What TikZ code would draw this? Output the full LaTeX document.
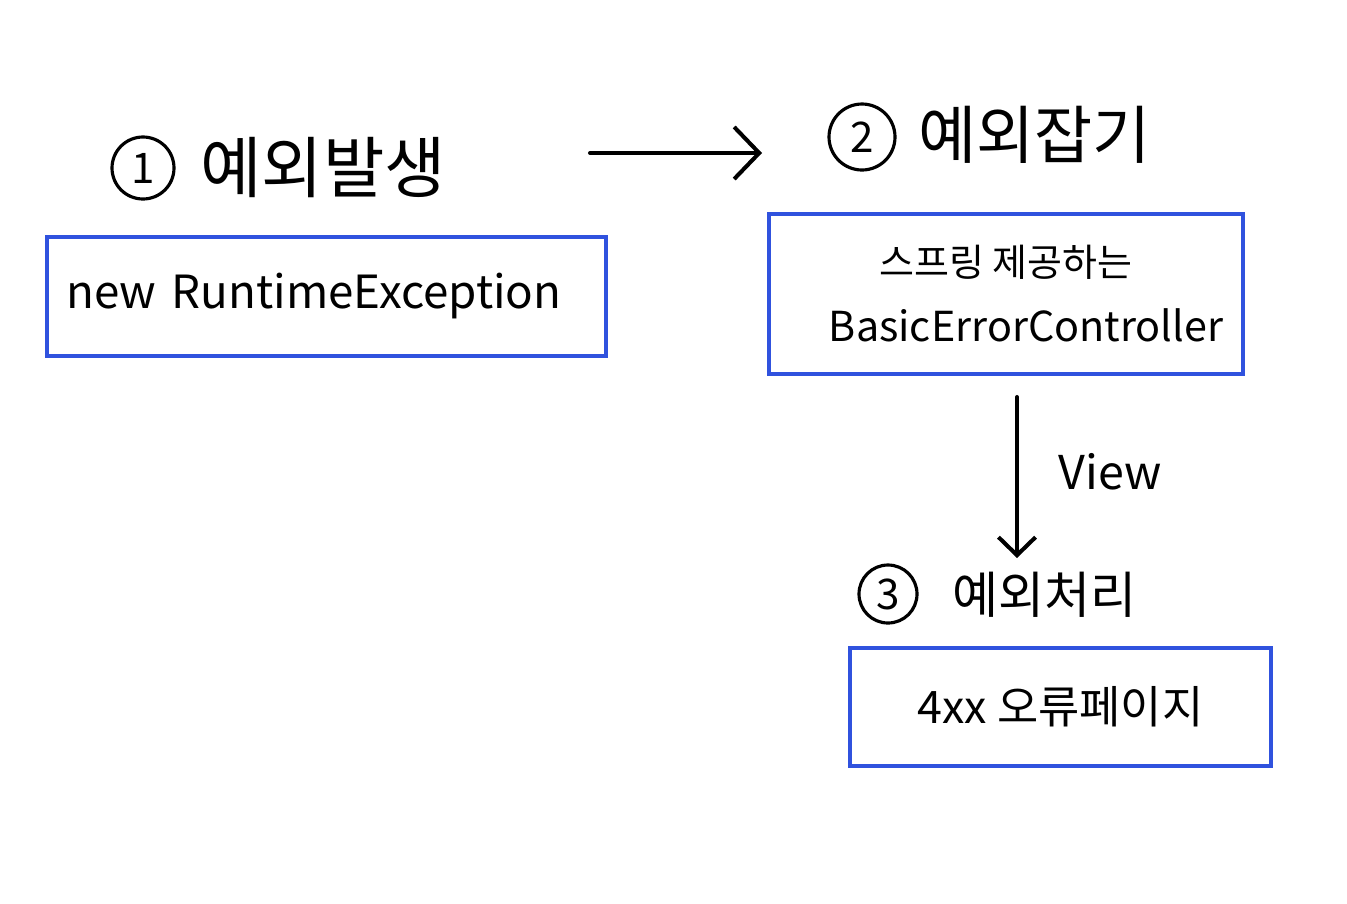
\documentclass[tikz,border=0pt]{standalone}
\usepackage{fontspec}
\setmainfont{Noto Sans CJK KR}
\usepackage{tikz}
\usetikzlibrary{arrows.meta,positioning}
\definecolor{boxblue}{RGB}{48,82,222}

\begin{document}
\begin{tikzpicture}
	\tikzstyle{every node} = [inner sep = 0pt]
	\tikzstyle{numcircle} = [circle, draw = black, line width = 1.8pt, minimum size = 1.24cm, font = \fontsize{24}{24}\selectfont]
	\tikzstyle{title} = [anchor = west, font = \fontsize{36}{36}\selectfont]
	\tikzstyle{box} = [rectangle, draw = boxblue, line width = 2.4pt, align = center]
	\tikzstyle{flow} = [line width = 2.3pt, line cap = round]
\useasboundingbox (0, 0) rectangle (26.94, -18.06);
\node[numcircle] (c1) at (2.86, -3.36) {1};
\node[title, font = \fontsize{38}{38}\selectfont] (t1) at (4.0, -3.36) {예외발생};
\node[numcircle, minimum size = 1.32cm] (c2) at (17.24, -2.74) {2};
\node[title] (t2) at (18.36, -2.7) {예외잡기};
\node[numcircle, minimum size = 1.16cm] (c3) at (17.76, -11.88) {3};
\node[title, font = \fontsize{28.5}{28.5}\selectfont] (t3) at (19.04, -11.9) {예외처리};
\node[box, minimum width = 11.18cm, minimum height = 2.38cm, text width = 10.4cm, align = left, font = \fontsize{26}{26}\selectfont] (b1) at (6.53, -5.93) {new RuntimeException};
\node[box, minimum width = 9.48cm, minimum height = 3.2cm, font = \fontsize{21.6}{37}\selectfont] (b2) at (20.12, -5.88) {스프링 제공하는\\\hspace*{0.8cm}{\fontsize{23.5}{37}\selectfont BasicErrorController}};
\node[box, minimum width = 8.42cm, minimum height = 2.36cm, font = \fontsize{25.5}{25.5}\selectfont] (b3) at (21.21, -14.14) {4xx 오류페이지};
\node[font = \fontsize{26.5}{26.5}\selectfont] (view) at (22.2, -9.44) {View};
\coordinate (a1s) at (11.8, -3.06);
\coordinate (a1e) at (15.24, -3.06);
\coordinate (a2s) at (20.34, -7.94);
\coordinate (a2e) at (20.34, -11.16);
	\path[draw, flow, -{Straight Barb[length = 0.5cm, width = 1.04cm]}] (a1s) -- (a1e);
	\path[draw, flow, -{Straight Barb[length = 0.36cm, width = 0.74cm]}] (a2s) -- (a2e);
\end{tikzpicture}
\end{document}
